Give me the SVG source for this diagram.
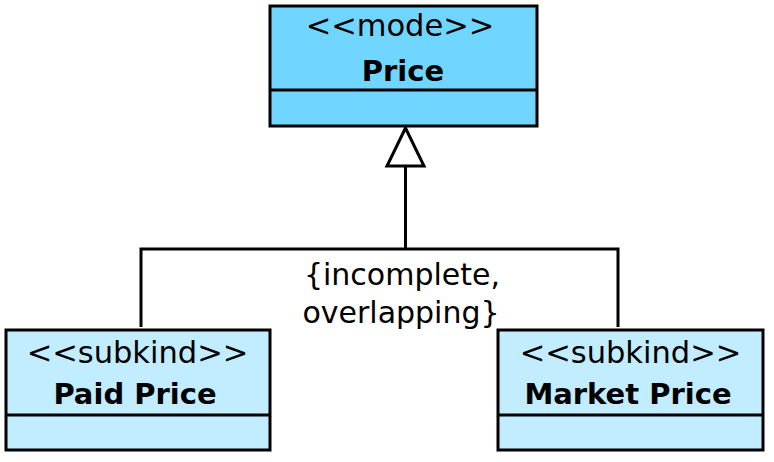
<svg xmlns="http://www.w3.org/2000/svg" width="774" height="462" viewBox="0 0 774 462">
<style>
.box{stroke:#000;stroke-width:3}
.mode{fill:#70d6ff}
.sub{fill:#c2ecff}
.ln{stroke:#000;stroke-width:3;fill:none}
text{font-family:"DejaVu Sans",sans-serif;font-size:30.5px;text-anchor:middle;fill:#000}
.b{font-weight:bold;font-size:29px}
</style>
<rect width="774" height="462" fill="#fff"/>
<g id="connectors">
<polyline class="ln" points="141,327 141,249 618,249 618,327"/>
<line class="ln" x1="405.5" y1="249" x2="405.5" y2="166"/>
<polygon points="405.5,128 387,166 424,166" fill="#fff" stroke="#000" stroke-width="3"/>
<text x="402" y="285" style="font-size:30px">{incomplete,</text>
<text x="401" y="323" style="font-size:30px">overlapping}</text>
</g>
<g id="price">
<rect class="box mode" x="270" y="6" width="267" height="120"/>
<line class="ln" x1="270" y1="90" x2="537" y2="90"/>
<text x="400" y="36">&lt;&lt;mode&gt;&gt;</text>
<text class="b" x="403" y="81">Price</text>
</g>
<g id="paid-price">
<rect class="box sub" x="6" y="330" width="264" height="120"/>
<line class="ln" x1="6" y1="415" x2="270" y2="415"/>
<text x="137.5" y="363">&lt;&lt;subkind&gt;&gt;</text>
<text class="b" x="135" y="404">Paid Price</text>
</g>
<g id="market-price">
<rect class="box sub" x="498" y="330" width="265" height="120"/>
<line class="ln" x1="498" y1="415" x2="763" y2="415"/>
<text x="630.5" y="363">&lt;&lt;subkind&gt;&gt;</text>
<text class="b" x="628" y="404">Market Price</text>
</g>
</svg>
